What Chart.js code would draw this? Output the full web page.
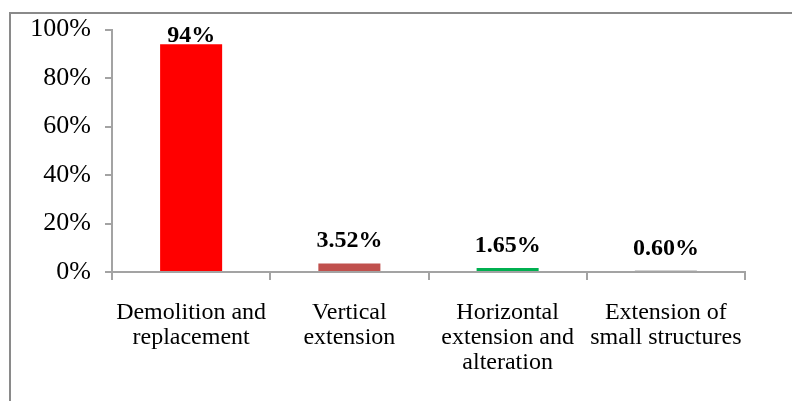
<!DOCTYPE html>
<html>
<head>
<meta charset="utf-8">
<script src="https://cdn.jsdelivr.net/npm/chart.js@4/dist/chart.umd.min.js"></script>
<style>
  html, body { margin: 0; padding: 0; background: #ffffff; }
  #wrap { width: 792px; height: 401px; position: relative; }
</style>
</head>
<body>
<div id="wrap"><canvas id="c" width="792" height="401"></canvas></div>
<script>
// Share of building works by type
const categories = [
  ['Demolition and', 'replacement'],
  ['Vertical', 'extension'],
  ['Horizontal', 'extension and', 'alteration'],
  ['Extension of', 'small structures']
];
const shares = [94, 3.52, 1.65, 0.60];
const barColors = ['#FF0000', '#C0504D', '#00B050', '#A6A6A6'];
const yTicks = [0, 20, 40, 60, 80, 100];

const SERIF = '"Liberation Serif", "Times New Roman", serif';
const AXIS_GREY = '#A3A3A3';

function pctText(v) {
  return Number.isInteger(v) ? v + '%' : v.toFixed(2) + '%';
}

// Outer frame of the figure (top and left edges)
const framePlugin = {
  id: 'frame',
  beforeDraw(chart) {
    const ctx = chart.ctx;
    ctx.save();
    ctx.fillStyle = '#ffffff';
    ctx.fillRect(0, 0, chart.width, chart.height);
    ctx.strokeStyle = '#8A8A8A';
    ctx.lineWidth = 2;
    ctx.beginPath();
    ctx.moveTo(10, chart.height);
    ctx.lineTo(10, 13);
    ctx.lineTo(chart.width, 13);
    ctx.stroke();
    ctx.restore();
  }
};

// Value labels above each bar
const valueLabels = {
  id: 'valueLabels',
  afterDatasetsDraw(chart) {
    const ctx = chart.ctx;
    const meta = chart.getDatasetMeta(0);
    const top = chart.chartArea.top;
    ctx.save();
    ctx.font = 'bold 24px ' + SERIF;
    ctx.fillStyle = '#000000';
    ctx.textAlign = 'center';
    ctx.textBaseline = 'alphabetic';
    meta.data.forEach((bar, i) => {
      const y = Math.max(bar.y - 16, top + 12);
      ctx.fillText(pctText(shares[i]), bar.x, y);
    });
    ctx.restore();
  }
};

new Chart(document.getElementById('c'), {
  type: 'bar',
  data: {
    labels: categories,
    datasets: [{
      data: shares,
      backgroundColor: barColors,
      borderWidth: 0,
      categoryPercentage: 1.0,
      barPercentage: 0.392
    }]
  },
  options: {
    responsive: false,
    animation: false,
    devicePixelRatio: 1,
    layout: { padding: { left: 0, right: 47, top: 28, bottom: 0 } },
    plugins: {
      legend: { display: false },
      tooltip: { enabled: false }
    },
    scales: {
      x: {
        offset: true,
        grid: {
          display: true,
          drawOnChartArea: false,
          drawTicks: true,
          tickLength: 8,
          offset: true,
          color: AXIS_GREY,
          lineWidth: 2
        },
        border: { display: true, color: AXIS_GREY, width: 2 },
        ticks: {
          color: '#000000',
          font: { family: SERIF, size: 24, lineHeight: 1.05 },
          padding: 20,
          maxRotation: 0,
          autoSkip: false
        },
        afterFit(scale) { scale.height = 129; }
      },
      y: {
        min: 0,
        max: 100,
        afterBuildTicks(scale) { scale.ticks = yTicks.map(v => ({ value: v })); },
        grid: {
          display: true,
          drawOnChartArea: false,
          drawTicks: true,
          tickLength: 7,
          color: AXIS_GREY,
          lineWidth: 2
        },
        border: { display: true, color: AXIS_GREY, width: 2 },
        ticks: {
          color: '#000000',
          font: { family: SERIF, size: 26 },
          padding: 14,
          callback: v => v + '%'
        },
        afterFit(scale) { scale.width = 112; }
      }
    }
  },
  plugins: [framePlugin, valueLabels]
});
</script>
</body>
</html>
